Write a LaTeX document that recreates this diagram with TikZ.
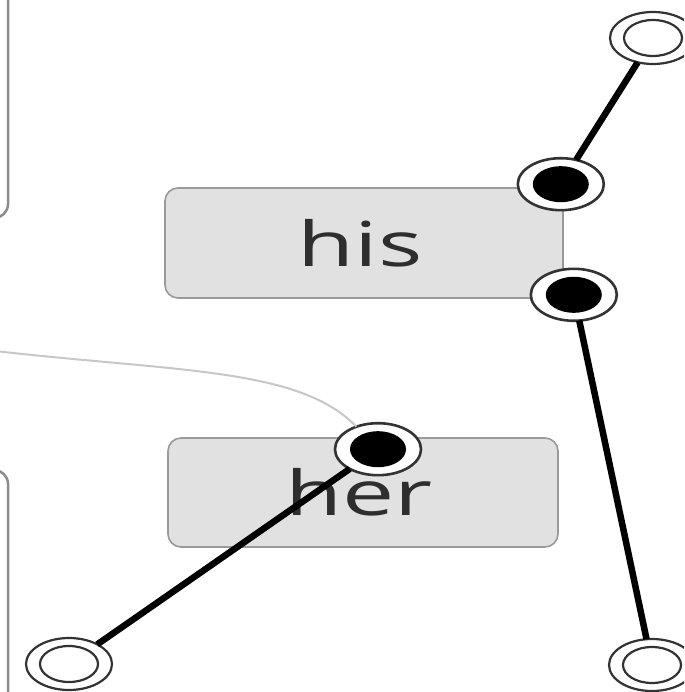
\documentclass[tikz,border=0pt]{standalone}
\usepackage{fontspec}
\setmainfont{Open Sans}
\usepackage{tikz}
\usepackage{xcolor}
\usetikzlibrary{shapes.geometric,positioning}
\definecolor{boxfill}{HTML}{E1E1E1}
\definecolor{boxline}{HTML}{9A9A9A}
\definecolor{pinline}{HTML}{333333}
\definecolor{wordcol}{HTML}{2E2E2E}
\tikzset{
    word-box/.style = {draw=boxline, fill=boxfill, line width=1.6pt, rectangle, rounded corners=13pt, inner sep=0pt, text=wordcol, font=\fontsize{62}{62}\selectfont},
    pin-open/.style = {draw=pinline, fill=white, line width=2.2pt, ellipse, inner sep=0pt, outer sep=0pt, minimum width=86pt, minimum height=52pt,
        path picture={\draw[pinline, line width=2.2pt] (path picture bounding box.center) ellipse [x radius=29pt, y radius=18pt];}},
    pin-full/.style = {draw=pinline, fill=white, line width=2.6pt, ellipse, inner sep=0pt, outer sep=0pt, minimum width=86pt, minimum height=52pt,
        path picture={\fill[black] (path picture bounding box.center) ellipse [x radius=28pt, y radius=18pt];}},
    link/.style = {draw=black, line width=6.5pt},
    wire/.style = {draw=black!22, line width=2pt},
    rim/.style = {draw=black!45, line width=2.5pt, rounded corners=14pt},
}
\newcommand{\wordtext}[1]{\hspace*{-8pt}\scalebox{1.5}[1]{#1}}

\begin{document}
\begin{tikzpicture}[x=1pt, y=-1pt]
\useasboundingbox (0,0) rectangle (684,692);
\clip (0,0) rectangle (684,692);

\draw[rim] (8,-20) -- (8,218) -- (-30,218);
\draw[rim] (-30,470) -- (8,470) -- (8,710);

\node[word-box, minimum width=398pt, minimum height=110pt] (his) at (364,243) {\wordtext{his}};
\node[word-box, minimum width=390pt, minimum height=109pt] (her) at (363,492.5) {\wordtext{her}};

\coordinate (wire-start) at (-5,351);
\node[pin-full] (his-top) at ([xshift=-3pt, yshift=3pt]his.north east) {};
\node[pin-full] (his-bot) at ([xshift=10pt, yshift=4pt]his.south east) {};
\node[pin-full] (her-pin) at ([xshift=15pt, yshift=-12pt]her.north) {};
\node[pin-open] (top-end) at (653,38) {};
\node[pin-open] (left-end) at (69,664) {};
\node[pin-open] (right-end) at (652,665) {};

\draw[wire] (wire-start) .. controls (180,372) and (300,368) .. (her-pin);
\draw[link] (top-end) -- (his-top);
\draw[link] (his-bot) -- (right-end);
\draw[link] (her-pin) -- (left-end);
\end{tikzpicture}
\end{document}
